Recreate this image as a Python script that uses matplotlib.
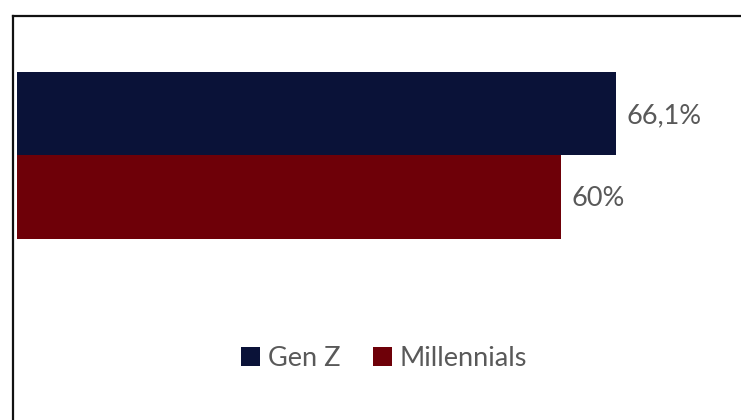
import matplotlib
matplotlib.use("Agg")
import matplotlib.pyplot as plt
from matplotlib.patches import Patch
from matplotlib.lines import Line2D

categories = ["Gen Z", "Millennials"]
values = [66.1, 60.0]
colors = ["#0a1238", "#6e0008"]

W, H = 741, 420
fig = plt.figure(figsize=(W / 100, H / 100), dpi=100)
plt.rcParams["font.family"] = ["Lato", "DejaVu Sans"]

# axes spanning from the bar baseline to the right edge, full height
x0 = 17
ax = fig.add_axes([x0 / W, 0, 1 - x0 / W, 1])
bar_h_px = 83.5
ax.set_xlim(0, (W - x0) / 9.06)
ax.set_ylim(H / bar_h_px, 0)
centers = [113.5 / bar_h_px + i for i in range(len(categories))]

for c, v, col in zip(centers, values, colors):
    ax.barh(c, v, height=1.0, color=col, edgecolor="none")
    label = f"{v:g}".replace(".", ",") + "%"
    ax.annotate(label, (v, c), xytext=(11, -2), textcoords="offset pixels",
                va="center", ha="left", fontsize=19.5, color="#595959")

ax.axis("off")

# outer frame (top and left edges visible)
fig.add_artist(Line2D([12.5 / W, 12.5 / W], [0, 1 - 16 / H], color="#111111", lw=1.6,
                      transform=fig.transFigure))
fig.add_artist(Line2D([12.5 / W, 1], [1 - 16 / H, 1 - 16 / H], color="#111111", lw=1.6,
                      transform=fig.transFigure))

handles = [Patch(facecolor=col, edgecolor="none") for col in colors]
fig.legend(handles, categories, loc="center", bbox_to_anchor=(384 / W, 1 - 358 / H),
           ncol=2, frameon=False, fontsize=19.5, labelcolor="#595959",
           handlelength=0.7, handleheight=0.7, handletextpad=0.3, columnspacing=1.2)

fig.savefig("out.png", dpi=100)
